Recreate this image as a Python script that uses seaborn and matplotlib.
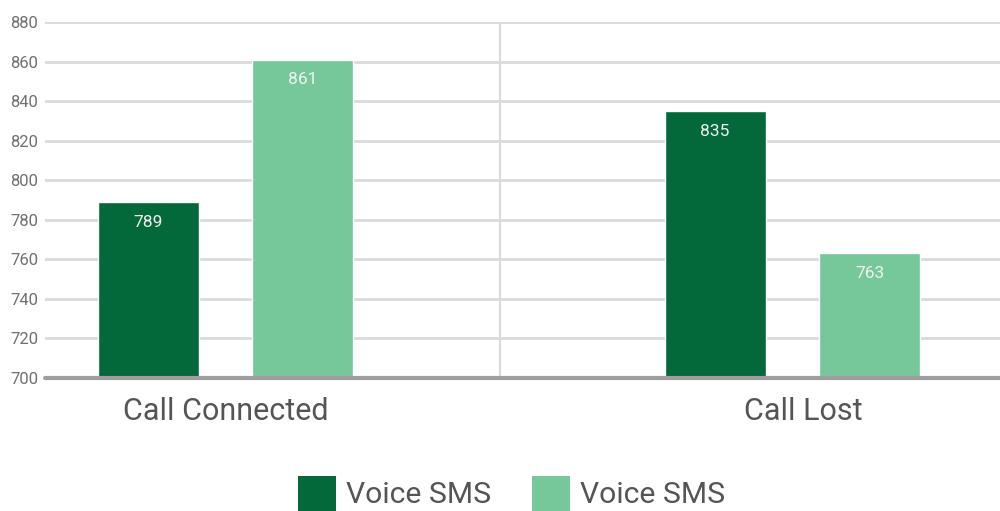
import numpy as np
import pandas as pd
import seaborn as sns
import matplotlib.pyplot as plt
import matplotlib.transforms as mtransforms
from matplotlib.patches import Patch

# data
categories = ["Call Connected", "Call Lost"]
series_names = ["Voice SMS", "Voice SMS"]
series_a = [789, 835]
series_b = [861, 763]
y_ticks = [700, 720, 740, 760, 780, 800, 820, 840, 860, 880]

DARK = "#03683a"
LIGHT = "#76c799"

df = pd.DataFrame({
    "category": categories * 2,
    "value": series_a + series_b,
    "series": ["a"] * len(categories) + ["b"] * len(categories),
})

sns.set_theme(style="white")
plt.rcParams["font.family"] = ["Roboto", "DejaVu Sans"]

fig = plt.figure(figsize=(10, 5.11), dpi=100)
ax = fig.add_axes([0.045, 0.2603, 0.955, 0.6967])

sns.barplot(data=df, x="category", y="value", hue="series",
            palette=[DARK, LIGHT], width=0.545, gap=0.347,
            legend=False, ax=ax, saturation=1)

ax.set_ylim(700, 880)
ax.set_xlim(-0.318, 1.366)
ax.set_yticks(y_ticks)
ax.yaxis.grid(True, color="#dadada", linewidth=2)
ax.set_axisbelow(True)
ax.axvline(0.484, color="#dadada", linewidth=1.5, zorder=0)
ax.axhline(700, color="#9e9e9e", linewidth=3, zorder=3, clip_on=False)

for s in ax.spines.values():
    s.set_visible(False)
ax.set_xlabel("")
ax.set_ylabel("")
ax.tick_params(axis="y", length=0, pad=5, labelsize=12, labelcolor="#707070")
ax.tick_params(axis="x", length=0, pad=14, labelsize=22, labelcolor="#555555")

# the second category label sits a bit right of its group in the original
shift = mtransforms.ScaledTranslation(11 / 100, 0, fig.dpi_scale_trans)
lbl = ax.get_xticklabels()[1]
lbl.set_transform(lbl.get_transform() + shift)

for cont in ax.containers:
    ax.bar_label(cont, padding=-20, color="#f2f2f2", fontsize=12.5)

handles = [Patch(facecolor=DARK, edgecolor="none"),
           Patch(facecolor=LIGHT, edgecolor="none")]
fig.legend(handles, series_names, loc="center", bbox_to_anchor=(0.512, 0.035),
           ncol=2, frameon=False, fontsize=21.7, handlelength=1.26,
           handleheight=1.4, handletextpad=0.33, columnspacing=1.36,
           labelcolor="#555555")

fig.savefig("out.png", dpi=100)
